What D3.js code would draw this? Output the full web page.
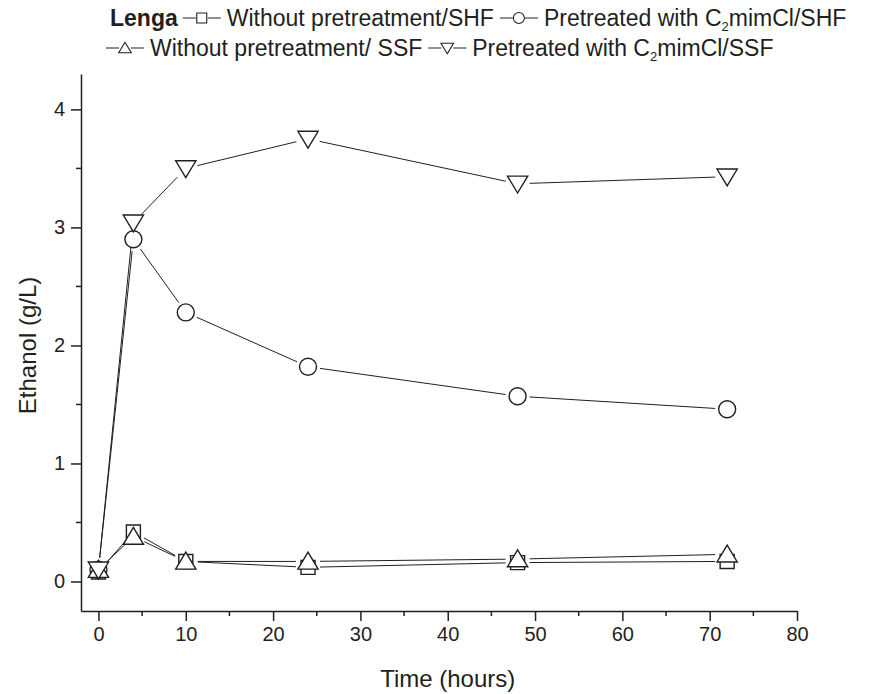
<!DOCTYPE html>
<html>
<head>
<meta charset="utf-8">
<script src="https://cdn.jsdelivr.net/npm/d3@7"></script>
<style>
  body { margin: 0; background: #fff; }
  svg { display: block; font-family: "Liberation Sans", Arial, sans-serif; }
  .axis path, .axis line { stroke: #231f20; stroke-width: 1.5; }
  .axis text { font-size: 20px; fill: #231f20; font-family: "Liberation Sans", Arial, sans-serif; }
  .series { fill: none; stroke: #231f20; stroke-width: 1; }
  .marker { fill: #fff; stroke: #231f20; stroke-width: 1.4; }
</style>
</head>
<body>
<svg id="chart" width="884" height="694"></svg>
<script>
// data
const hours = [0, 4, 10, 24, 48, 72];
const withoutSHF = [0.08, 0.42, 0.17, 0.12, 0.16, 0.17];
const pretreatedSHF = [0.10, 2.90, 2.28, 1.82, 1.57, 1.46];
const withoutSSF = [0.10, 0.38, 0.17, 0.17, 0.19, 0.23];
const pretreatedSSF = [0.10, 3.04, 3.50, 3.75, 3.37, 3.43];

const xTicks = [0, 10, 20, 30, 40, 50, 60, 70, 80];
const xMinor = [5, 15, 25, 35, 45, 55, 65, 75];
const yTicks = [0, 1, 2, 3, 4];
const yMinor = [0.5, 1.5, 2.5, 3.5];

const series = [
    {name: 'Without pretreatment/SHF', values: withoutSHF, shape: 'square'},
    {name: 'Pretreated with C|2|mimCl/SHF', values: pretreatedSHF, shape: 'circle'},
    {name: 'Without pretreatment/ SSF', values: withoutSSF, shape: 'up'},
    {name: 'Pretreated with C|2|mimCl/SSF', values: pretreatedSSF, shape: 'down'}
];

const svg = d3.select('#chart');
const xScale = d3.scaleLinear().domain([-2, 80]).range([81, 797]);
const yScale = d3.scaleLinear().domain([-0.25, 4.3]).range([611, 74]);

function markerPath(shape, s) {
    // s = half size
    if (shape === 'square') return `M${-s},${-s}H${s}V${s}H${-s}Z`;
    if (shape === 'circle') return `M${s},0A${s},${s} 0 1,1 ${-s},0A${s},${s} 0 1,1 ${s},0Z`;
    const h = s * 0.87;
    if (shape === 'up') return `M0,${-s * 1.05}L${s * 1.15},${h}L${-s * 1.15},${h}Z`;
    return `M0,${s * 1.05}L${s * 1.15},${-h}L${-s * 1.15},${-h}Z`;
}
const markerSize = {square: 7, circle: 8.5, up: 8.8, down: 8.8};

// axes
const xAxis = d3.axisBottom(xScale).tickValues(xTicks).tickSize(10).tickSizeOuter(0)
    .tickPadding(6).tickFormat(d3.format('d'));
const gx = svg.append('g').attr('class', 'axis').attr('transform', 'translate(0,611)').call(xAxis);
gx.selectAll('.minor').data(xMinor).enter().append('line')
    .attr('class', 'minor')
    .attr('x1', d => xScale(d)).attr('x2', d => xScale(d))
    .attr('y1', 0).attr('y2', 5);

const yAxis = d3.axisLeft(yScale).tickValues(yTicks).tickSize(10).tickSizeOuter(0)
    .tickPadding(6).tickFormat(d3.format('d'));
const gy = svg.append('g').attr('class', 'axis').attr('transform', 'translate(81,0)').call(yAxis);
gy.selectAll('.minor').data(yMinor).enter().append('line')
    .attr('class', 'minor')
    .attr('y1', d => yScale(d)).attr('y2', d => yScale(d))
    .attr('x1', 0).attr('x2', -5);

// axis titles
svg.append('text')
    .attr('x', (xScale(0) + xScale(80)) / 2).attr('y', 687)
    .attr('text-anchor', 'middle')
    .style('font-size', '24px').style('fill', '#231f20')
    .text('Time (hours)');
svg.append('text')
    .attr('transform', `translate(36,${(yScale(0) + yScale(4)) / 2}) rotate(-90)`)
    .attr('text-anchor', 'middle')
    .style('font-size', '24px').style('fill', '#231f20')
    .text('Ethanol (g/L)');

// lines, broken around the markers
const gap = 12;
series.forEach(s => {
    const pts = hours.map((h, i) => [xScale(h), yScale(s.values[i])]);
    const g = svg.append('g');
    for (let i = 0; i < pts.length - 1; i++) {
        const [x1, y1] = pts[i], [x2, y2] = pts[i + 1];
        const len = Math.hypot(x2 - x1, y2 - y1);
        if (len <= gap * 2) continue;
        const ux = (x2 - x1) / len, uy = (y2 - y1) / len;
        g.append('line').attr('class', 'series')
            .attr('x1', x1 + ux * gap).attr('y1', y1 + uy * gap)
            .attr('x2', x2 - ux * gap).attr('y2', y2 - uy * gap);
    }
});

// markers
series.forEach(s => {
    svg.append('g').selectAll('path')
        .data(hours.map((h, i) => ({h, v: s.values[i]})))
        .enter().append('path')
        .attr('class', 'marker')
        .attr('transform', d => `translate(${xScale(d.h)},${yScale(d.v)})`)
        .attr('d', markerPath(s.shape, markerSize[s.shape]));
});

// legend
const legendFont = 23;
function addLabel(g, x, y, label) {
    const parts = label.split('|');
    const t = g.append('text').attr('x', x).attr('y', y)
        .style('font-size', legendFont + 'px').style('fill', '#231f20');
    parts.forEach((p, i) => {
        if (i === 1) t.append('tspan').attr('dy', 5).style('font-size', '13px').text(p);
        else if (i === 2) t.append('tspan').attr('dy', -5).text(p);
        else t.append('tspan').text(p);
    });
    return t.node().getComputedTextLength();
}
function addSymbol(g, x, y, shape) {
    g.append('line').attr('class', 'series').attr('x1', x).attr('x2', x + 13).attr('y1', y).attr('y2', y);
    g.append('line').attr('class', 'series').attr('x1', x + 25).attr('x2', x + 38).attr('y1', y).attr('y2', y);
    g.append('path').attr('class', 'marker').attr('transform', `translate(${x + 19},${y})`)
        .attr('d', markerPath(shape, shape === 'square' ? 5 : 5.5)).style('stroke-width', 1.1);
    return 38;
}
const legend = svg.append('g');
const rows = [
    {y: 26, x: 110, items: [series[0], series[1]], title: 'Lenga'},
    {y: 56, x: 106, items: [series[2], series[3]]}
];
rows.forEach(r => {
    let x = r.x;
    if (r.title) {
        const t = legend.append('text').attr('x', x).attr('y', r.y)
            .style('font-size', legendFont + 'px').style('font-weight', 'bold').style('fill', '#231f20')
            .text(r.title);
        x += t.node().getComputedTextLength() + 5;
    }
    r.items.forEach(s => {
        x += addSymbol(legend, x, r.y - 8, s.shape) + 6;
        x += addLabel(legend, x, r.y, s.name) + 6;
    });
});
</script>
</body>
</html>
